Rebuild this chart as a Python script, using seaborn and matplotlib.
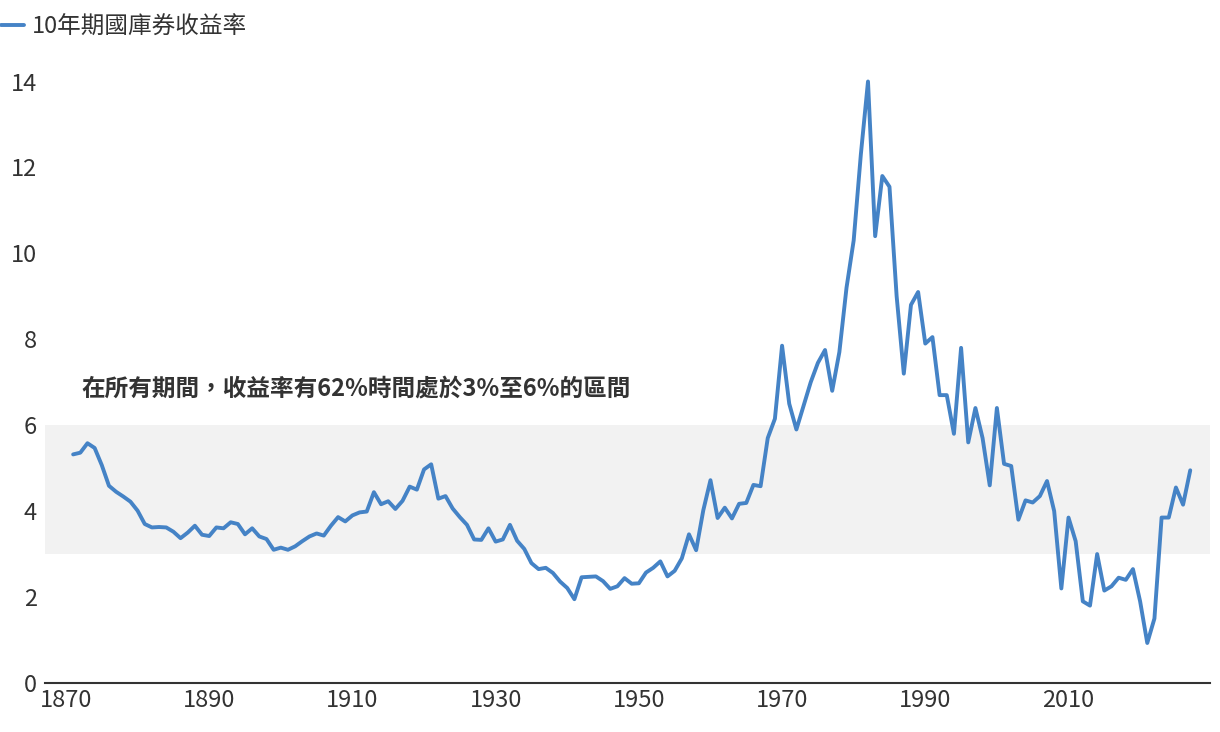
import matplotlib
matplotlib.use("Agg")
import matplotlib.pyplot as plt
import seaborn as sns
import pandas as pd
import numpy as np

start_year = 1871
yields = [
 5.32,5.36,5.58,5.47,5.07,4.59,4.45,4.34,4.22,4.01,3.70,3.62,3.63,3.62,3.52,3.37,3.50,3.66,3.45,3.42,
 3.62,3.60,3.74,3.70,3.46,3.60,3.41,3.35,3.10,3.15,3.10,3.18,3.30,3.41,3.48,3.43,3.66,3.86,3.76,3.90,
 3.97,3.99,4.44,4.16,4.23,4.05,4.24,4.57,4.50,4.97,5.09,4.29,4.35,4.06,3.86,3.68,3.34,3.33,3.60,3.29,
 3.34,3.68,3.31,3.12,2.79,2.65,2.68,2.56,2.36,2.21,1.95,2.46,2.47,2.48,2.37,2.19,2.25,2.44,2.31,2.32,
 2.57,2.68,2.83,2.48,2.61,2.90,3.46,3.09,4.02,4.72,3.84,4.08,3.83,4.17,4.19,4.61,4.58,
 5.70,6.15,7.85,6.50,5.90,6.45,7.00,7.45,7.75,6.80,7.70,9.20,10.30,12.30,14.00,
 10.40,11.80,11.55,9.00,7.20,8.80,9.10,7.90,8.05,6.70,6.70,5.80,7.80,5.60,6.40,5.70,4.60,6.40,5.10,5.05,
 3.80,4.25,4.20,4.35,4.70,4.00,2.20,3.85,3.30,1.90,1.80,3.00,2.15,2.25,2.45,2.40,2.65,1.90,0.93,1.50,
 3.85,3.85,4.55,4.15,4.95]
years = list(range(start_year, start_year + len(yields)))
df = pd.DataFrame({"年份": years, "10年期國庫券收益率": yields})
band = [3, 6]
xticks = [1870, 1890, 1910, 1930, 1950, 1970, 1990, 2010]
yticks = [0, 2, 4, 6, 8, 10, 12, 14]
note = "在所有期間，收益率有62%時間處於3%至6%的區間"
label = "10年期國庫券收益率"

sns.set_style("white")
plt.rcParams['font.family'] = ['Noto Sans CJK TC', 'DejaVu Sans']

fig = plt.figure(figsize=(12.2, 7.32), dpi=100)
ax = fig.add_axes([0.037, 0.067, 0.955, 0.851])
ax.axhspan(band[0], band[1], color="#f2f2f2", zorder=0, lw=0)
sns.lineplot(data=df, x="年份", y="10年期國庫券收益率", ax=ax, color="#4583c6", lw=2.8, label=label)

n = len(yields)
px = (1190 - 73) / (n - 1)
ax.set_xlim(start_year - 28 / px, start_year + n - 1 + 20 / px)
ax.set_ylim(0, 14.5)
ax.set_xticks(xticks)
ax.set_yticks(yticks)
ax.tick_params(axis="both", labelsize=17, colors="#333333", length=0)
ax.tick_params(axis="y", pad=6)
ax.tick_params(axis="x", pad=4)
ax.set_xlabel("")
ax.set_ylabel("")
for s in ["top", "right", "left"]:
    ax.spines[s].set_visible(False)
ax.spines["bottom"].set_color("#333333")
ax.spines["bottom"].set_linewidth(1.5)

ax.text(0.031, 0.473, note, transform=ax.transAxes, fontsize=17, fontweight="bold", color="#333333",
        va="center", ha="left")

leg = ax.legend(loc="center left", bbox_to_anchor=(-0.038, 1.053), frameon=False, fontsize=17,
                handlelength=1.0, handletextpad=0.3, borderaxespad=0, borderpad=0)
for t in leg.get_texts():
    t.set_color("#333333")

fig.savefig("out.png", dpi=100)
